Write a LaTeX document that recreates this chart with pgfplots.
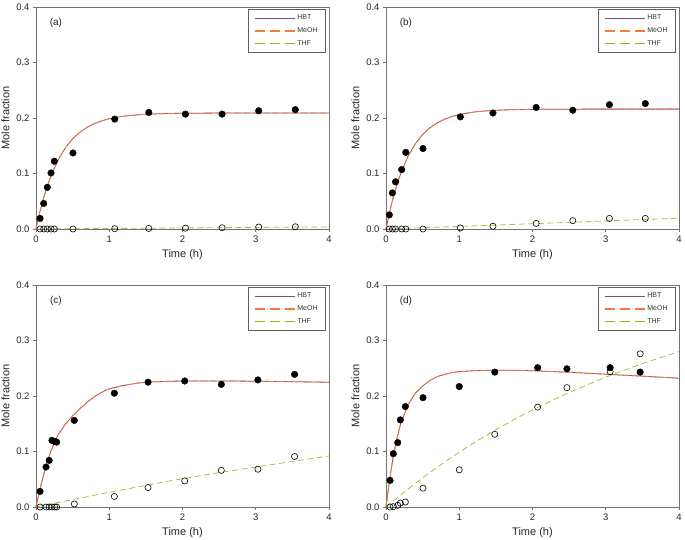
\documentclass[border=0pt]{standalone}
\usepackage{pgfplots}
\usepackage{pgfplotstable}
\pgfplotsset{compat=1.18}
\usepackage{fontspec}
\setmainfont{Liberation Sans}

\definecolor{framegray}{RGB}{115,115,115}
\definecolor{legendgray}{RGB}{95,95,95}
\definecolor{hbtcol}{RGB}{130,80,120}
\definecolor{meohcol}{RGB}{245,122,55}
\definecolor{thfcol}{RGB}{170,192,65}
\definecolor{thfkey}{RGB}{150,180,30}

% ---------- fitted model curves (HBT and MeOH coincide) ----------
\pgfplotstableread{
t    hbt     thf
0    0       0
0.05 0.0291  0.0000
0.1  0.0542  0.0001
0.15 0.0757  0.0001
0.2  0.0943  0.0002
0.3  0.1240  0.0003
0.4  0.1460  0.0004
0.5  0.1624  0.0005
0.6  0.1745  0.0006
0.7  0.1834  0.0007
0.8  0.1900  0.0008
0.9  0.1950  0.0009
1.0  0.1986  0.0010
1.2  0.2033  0.0011
1.4  0.2059  0.0013
1.6  0.2073  0.0015
1.8  0.2081  0.0017
2.0  0.2085  0.0019
2.5  0.2089  0.0024
3.0  0.2090  0.0028
3.5  0.2090  0.0033
4.0  0.2090  0.0038
}\curveA

\pgfplotstableread{
t    hbt     thf
0    0       0
0.05 0.0310  0.0002
0.1  0.0576  0.0004
0.15 0.0804  0.0007
0.2  0.0998  0.0009
0.3  0.1308  0.0014
0.4  0.1535  0.0018
0.5  0.1702  0.0023
0.6  0.1824  0.0028
0.7  0.1913  0.0032
0.8  0.1979  0.0037
0.9  0.2027  0.0042
1.0  0.2063  0.0046
1.2  0.2108  0.0056
1.4  0.2132  0.0066
1.6  0.2145  0.0075
1.8  0.2152  0.0085
2.0  0.2156  0.0095
2.5  0.2159  0.0120
3.0  0.2160  0.0145
3.5  0.2160  0.0170
4.0  0.2160  0.0195
}\curveB

\pgfplotstableread{
t    hbt     thf
0    0       0
0.05 0.0300  0.0014
0.1  0.0560  0.0027
0.15 0.0790  0.0041
0.2  0.1000  0.0054
0.3  0.1300  0.0081
0.4  0.1490  0.0108
0.5  0.1640  0.0135
0.6  0.1770  0.0160
0.7  0.1890  0.0186
0.8  0.1990  0.0212
0.9  0.2070  0.0238
1.0  0.2130  0.0265
1.2  0.2190  0.0315
1.4  0.2235  0.0364
1.6  0.2255  0.0414
1.8  0.2265  0.0462
2.0  0.2270  0.0510
2.5  0.2272  0.0620
3.0  0.2266  0.0720
3.5  0.2258  0.0820
4.0  0.2248  0.0920
}\curveC

\pgfplotstableread{
t    hbt     thf
0    0       0
0.05 0.0500  0.0056
0.1  0.0920  0.0110
0.15 0.1240  0.0165
0.2  0.1500  0.0218
0.3  0.1840  0.0322
0.4  0.2050  0.0424
0.5  0.2180  0.0524
0.6  0.2280  0.0622
0.7  0.2350  0.0716
0.8  0.2390  0.0809
0.9  0.2420  0.0899
1.0  0.2440  0.0986
1.2  0.2455  0.1155
1.4  0.2463  0.1315
1.6  0.2465  0.1467
1.8  0.2462  0.1612
2.0  0.2455  0.1750
2.5  0.2428  0.2065
3.0  0.2393  0.2340
3.5  0.2357  0.2585
4.0  0.2320  0.2800
}\curveD

% ---------- measured mole fractions: t, HBT (filled), THF (open) ----------
\pgfplotstableread{
t     hbt    thf
0.055 0.019  0
0.105 0.046  0
0.155 0.075  0
0.205 0.101  0
0.25  0.122  0
0.505 0.137  0
1.075 0.198  0.0005
1.54  0.210  0.0010
2.04  0.207  0.0015
2.54  0.207  0.0022
3.04  0.213  0.0035
3.54  0.215  0.0040
}\dataA

\pgfplotstableread{
t     hbt    thf
0.045 0.0255 0
0.088 0.065  0
0.13  0.085  0
0.214 0.107  0
0.27  0.138  0
0.505 0.145  0
1.015 0.202  0.002
1.46  0.209  0.005
2.05  0.219  0.010
2.55  0.214  0.015
3.05  0.224  0.019
3.54  0.226  0.019
}\dataB

\pgfplotstableread{
t     hbt    thf
0.055 0.028  0
0.137 0.072  0
0.18  0.084  0
0.218 0.120  0
0.255 0.118  0
0.282 0.117  0
0.523 0.156  0.0054
1.07  0.205  0.019
1.53  0.225  0.035
2.03  0.227  0.047
2.53  0.221  0.066
3.03  0.229  0.068
3.53  0.239  0.091
}\dataC

\pgfplotstableread{
t     hbt    thf
0.055 0.048  0
0.1   0.096  0.0006
0.16  0.116  0.003
0.196 0.157  0.007
0.264 0.181  0.009
0.505 0.197  0.034
1.0   0.217  0.067
1.485 0.243  0.131
2.07  0.251  0.180
2.47  0.249  0.215
3.06  0.251  0.244
3.47  0.243  0.276
}\dataD

\tikzset{tag/.style={font=\fontsize{10}{11}\selectfont, text=black!85}}

\pgfplotsset{
  panel/.style={
    scale only axis, width=293pt, height=222pt,
    xmin=0, xmax=4, ymin=0, ymax=0.4,
    xtick={0,1,2,3,4}, ytick={0,0.1,0.2,0.3,0.4},
    yticklabel style={/pgf/number format/.cd, fixed, fixed zerofill, precision=1},
    /pgf/number format/assume math mode=true,
    tick align=outside, xtick pos=bottom, ytick pos=left,
    major tick length=3pt,
    tick style={framegray, line width=0.8pt},
    axis line style={framegray, line width=0.9pt},
    ticklabel style={font=\fontsize{9.5}{10}\selectfont, text=black!85},
    label style={font=\fontsize{11}{12}\selectfont, text=black!85},
    xlabel={Time (h)}, ylabel={Mole fraction},
    clip=false,
    legend style={at={(rel axis cs:0.99,0.991)}, anchor=north east,
      draw=legendgray, line width=0.9pt, fill=white,
      font=\fontsize{7}{8}\selectfont, text=black!80,
      inner xsep=6pt, inner ysep=3.5pt, row sep=2.5pt,
      /tikz/every even column/.append style={column sep=11pt}},
    legend cell align=left,
  },
  hbtline/.style={color=hbtcol, draw=hbtcol, line width=0.8pt, no marks,
    legend image code/.code={\draw[draw=hbtcol, line width=1.1pt] (0pt,0pt) -- (40pt,0pt);}},
  meohline/.style={color=meohcol, draw=meohcol, line width=0.8pt, dash pattern=on 7pt off 2.5pt, no marks,
    legend image code/.code={\draw[draw=meohcol, line width=1.1pt, dash pattern=on 10pt off 5pt] (0pt,0pt) -- (40pt,0pt);}},
  thfline/.style={color=thfcol, draw=thfcol, line width=0.8pt, dash pattern=on 6pt off 3.5pt, no marks,
    legend image code/.code={\draw[draw=thfkey, line width=1.3pt, dash pattern=on 10pt off 5pt] (0pt,0.5pt) -- (40pt,0.5pt);}},
  filledpts/.style={only marks, mark=*, mark size=3.3pt, black, forget plot},
  openpts/.style={only marks, mark=o, mark size=3.1pt, mark options={draw=black, fill=white, line width=0.6pt}, forget plot},
}

\begin{document}
\begin{tikzpicture}
\useasboundingbox (0,0) rectangle (685pt,540pt);

% (a)
\begin{axis}[panel, at={(36pt,311pt)}, anchor=south west]
  \addplot[hbtline]  table[x=t, y=hbt] {\curveA}; \addlegendentry{HBT}
  \addplot[meohline] table[x=t, y=hbt] {\curveA}; \addlegendentry{MeOH}
  \addplot[thfline]  table[x=t, y=thf] {\curveA}; \addlegendentry{THF}
  \addplot[openpts]   table[x=t, y=thf] {\dataA};
  \addplot[filledpts] table[x=t, y=hbt] {\dataA};
  \node[tag] at (rel axis cs:0.068,0.928) {(a)};
\end{axis}

% (b)
\begin{axis}[panel, at={(386pt,311pt)}, anchor=south west]
  \addplot[hbtline]  table[x=t, y=hbt] {\curveB}; \addlegendentry{HBT}
  \addplot[meohline] table[x=t, y=hbt] {\curveB}; \addlegendentry{MeOH}
  \addplot[thfline]  table[x=t, y=thf] {\curveB}; \addlegendentry{THF}
  \addplot[openpts]   table[x=t, y=thf] {\dataB};
  \addplot[filledpts] table[x=t, y=hbt] {\dataB};
  \node[tag] at (rel axis cs:0.068,0.928) {(b)};
\end{axis}

% (c)
\begin{axis}[panel, at={(36pt,33pt)}, anchor=south west]
  \addplot[hbtline]  table[x=t, y=hbt] {\curveC}; \addlegendentry{HBT}
  \addplot[meohline] table[x=t, y=hbt] {\curveC}; \addlegendentry{MeOH}
  \addplot[thfline]  table[x=t, y=thf] {\curveC}; \addlegendentry{THF}
  \addplot[openpts]   table[x=t, y=thf] {\dataC};
  \addplot[filledpts] table[x=t, y=hbt] {\dataC};
  \node[tag] at (rel axis cs:0.068,0.928) {(c)};
\end{axis}

% (d)
\begin{axis}[panel, at={(386pt,33pt)}, anchor=south west]
  \addplot[hbtline]  table[x=t, y=hbt] {\curveD}; \addlegendentry{HBT}
  \addplot[meohline] table[x=t, y=hbt] {\curveD}; \addlegendentry{MeOH}
  \addplot[thfline]  table[x=t, y=thf] {\curveD}; \addlegendentry{THF}
  \addplot[openpts]   table[x=t, y=thf] {\dataD};
  \addplot[filledpts] table[x=t, y=hbt] {\dataD};
  \node[tag] at (rel axis cs:0.068,0.928) {(d)};
\end{axis}
\end{tikzpicture}
\end{document}
